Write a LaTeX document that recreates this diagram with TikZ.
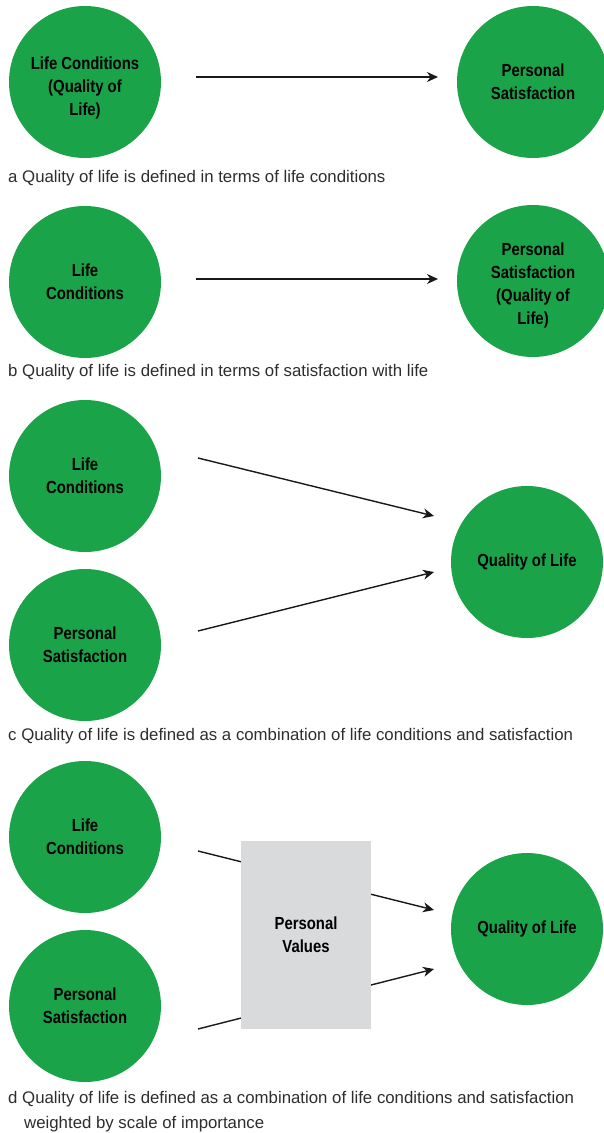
\documentclass[tikz,border=0pt]{standalone}
\usepackage{fontspec}
\setmainfont{Liberation Sans}
\newfontfamily\cbfont{Liberation Sans Bold}[FakeStretch=0.85]
\newfontfamily\captfont{Liberation Sans}
\usetikzlibrary{arrows.meta}
\definecolor{qgreen}{RGB}{27,163,73}
\definecolor{qgray}{RGB}{217,218,220}
\definecolor{captgray}{RGB}{45,45,45}
\tikzset{
  circ/.style={circle, fill=qgreen, minimum size=152pt, inner sep=0pt, align=center,
    font=\cbfont\fontsize{17.5}{23}\selectfont},
  circtext/.style={align=center, font=\cbfont\fontsize{17.5}{23}\selectfont},
  valbox/.style={rectangle, fill=qgray, minimum width=130pt, minimum height=188pt, inner sep=0pt,
    align=center, font=\cbfont\fontsize{17.5}{23}\selectfont},
  capt/.style={anchor=west, inner sep=0pt, align=left, text=captgray,
    font=\captfont\fontsize{16.8}{25}\selectfont},
  arr/.style={line width=1.4pt, draw=black!90, -{Stealth[length=11pt,width=10pt,inset=3.5pt]}}
}
\begin{document}
\begin{tikzpicture}[x=1pt,y=-1pt]
\useasboundingbox (0,0) rectangle (603,1133);
% ---- a ----
\node[circ] (a1) at (85,82) {};
\node[circtext] (a1t) at (85,88) {Life Conditions\\(Quality of\\Life)};
\node[circ] (a2) at (533,82) {Personal\\Satisfaction};
\coordinate (as) at (196,77);
\coordinate (ae) at (438,77);
\draw[arr] (as) -- (ae);
\node[capt] (ca) at (8,178) {a Quality of life is defined in terms of life conditions};
% ---- b ----
\node[circ] (b1) at (85,282) {Life\\Conditions};
\node[circ] (b2) at (533,281) {};
\node[circtext] (b2t) at (533,285) {Personal\\Satisfaction\\(Quality of\\Life)};
\coordinate (bs) at (196,279);
\coordinate (be) at (438,279);
\draw[arr] (bs) -- (be);
\node[capt] (cb) at (8,372) {b Quality of life is defined in terms of satisfaction with life};
% ---- c ----
\node[circ] (c1) at (85,476) {Life\\Conditions};
\node[circ] (c2) at (85,645) {Personal\\Satisfaction};
\node[circ] (c3) at (527,562) {Quality of Life};
\coordinate (cs1) at (198,458);
\coordinate (ce1) at (434,516);
\coordinate (cs2) at (198,631);
\coordinate (ce2) at (434,572);
\draw[arr] (cs1) -- (ce1);
\draw[arr] (cs2) -- (ce2);
\node[capt] (cc) at (8,736) {c Quality of life is defined as a combination of life conditions and satisfaction};
% ---- d ----
\node[circ] (d1) at (85,837) {Life\\Conditions};
\node[circ] (d2) at (85,1006) {Personal\\Satisfaction};
\node[circ] (d3) at (527,929) {Quality of Life};
\coordinate (ds1) at (198,851);
\coordinate (de1) at (434,910);
\coordinate (ds2) at (198,1029);
\coordinate (de2) at (434,969);
\draw[arr] (ds1) -- (de1);
\draw[arr] (ds2) -- (de2);
\node[valbox] (pv) at (306,935) {Personal\\Values};
\node[capt, anchor=north west] (cd) at (8,1091) {d Quality of life is defined as a combination of life conditions and satisfaction\\\hspace*{16pt}weighted by scale of importance};
\end{tikzpicture}
\end{document}
